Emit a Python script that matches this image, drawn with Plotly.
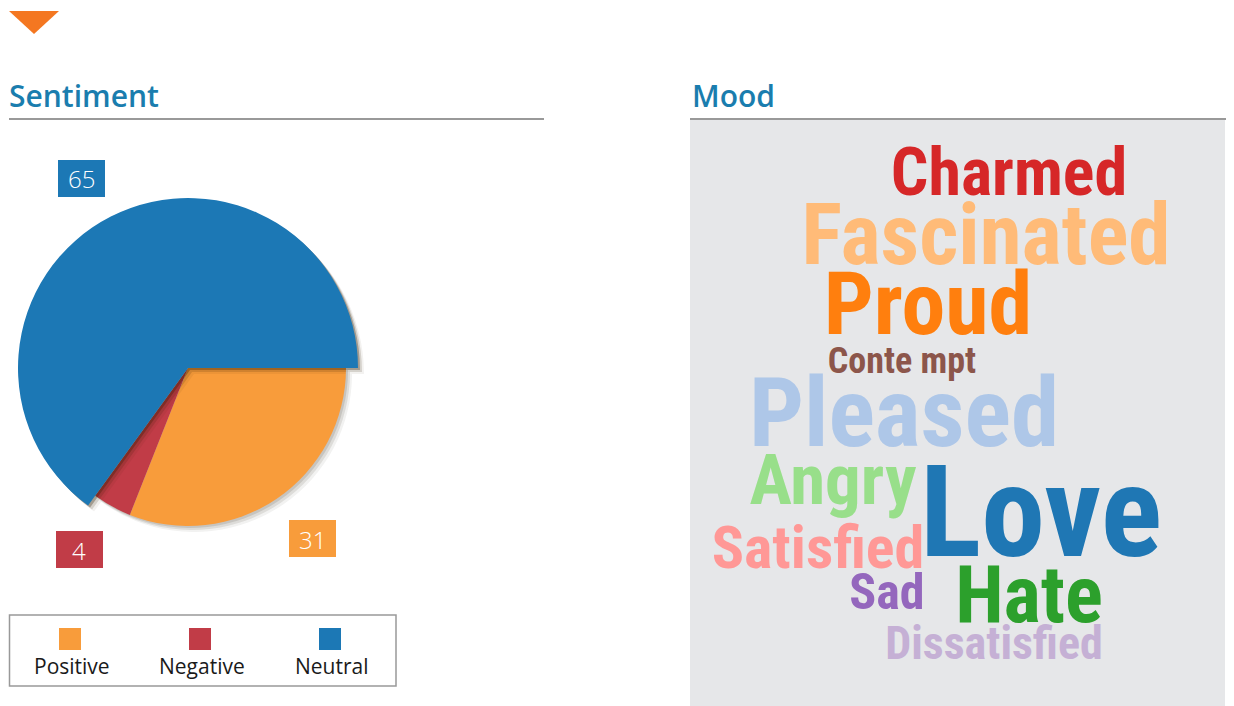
import plotly.graph_objects as go

W, H = 1234, 706

# ---------------- data ----------------
categories = ["Positive", "Negative", "Neutral"]
values = [31, 4, 65]
colors = ["#F89C3B", "#C13C47", "#1C78B5"]

words = ["Charmed", "Fascinated", "Proud", "Conte mpt", "Pleased", "Angry",
         "Love", "Satisfied", "Sad", "Hate", "Dissatisfied"]
word_weights = [66, 85, 88, 36, 97, 71, 128, 60, 50, 79, 46]
word_colors = ["#D62728", "#FFBB78", "#FF7F0E", "#8C564B", "#AEC7E8", "#98DF8A",
               "#1F77B4", "#FF9896", "#9467BD", "#2CA02C", "#C5B0D5"]

# ---------------- layout helpers (pixel -> paper) ----------------
def px(x):
    return x / W

def py(y):
    return 1 - y / H

# word-cloud placement (pixel centres inside the Mood panel)
word_x = [1009, 986, 928, 902, 904, 833, 1041, 818, 887, 1029, 994]
word_y = [178, 243, 312, 364, 422, 486, 524, 553, 596, 602, 647]

cx, cy = 188, 368
r_big, r_small = 170, 158

def dom(r, dx=0, dy=0):
    return dict(x=[px(cx - r + dx), px(cx + r + dx)],
                y=[py(cy + r + dy), py(cy - r + dy)])

TRANSP = "rgba(0,0,0,0)"
fig = go.Figure()

def pie(r, cols, dx=0, dy=0):
    fig.add_trace(go.Pie(
        labels=categories, values=values, sort=False, direction="clockwise",
        rotation=90, textinfo="none", showlegend=False,
        marker=dict(colors=cols, line=dict(width=0)),
        domain=dom(r, dx, dy), hoverinfo="label+value"))

# soft shadow for positive/negative slices
for off, a in [(2, 0.12), (4, 0.10), (6, 0.06)]:
    pie(r_small, [f"rgba(40,30,10,{a})", f"rgba(40,30,10,{a})", TRANSP], off, off)
pie(r_small, [colors[0], colors[1], TRANSP])
# shadow for neutral slice
for off, a in [(2, 0.30), (4, 0.15), (6, 0.06)]:
    pie(r_big, [TRANSP, TRANSP, f"rgba(50,30,0,{a})"], off, off)
pie(r_big, [TRANSP, TRANSP, colors[2]])

# word cloud
fig.add_trace(go.Scatter(
    x=word_x, y=word_y, text=words, mode="text", textposition="middle center",
    textfont=dict(size=word_weights, color=word_colors,
                  family="Roboto Condensed, Open Sans Condensed, sans-serif",
                  weight="bold"),
    hoverinfo="text", showlegend=False, xaxis="x", yaxis="y"))

shapes = []
annotations = []

# orange triangle marker
shapes.append(dict(type="path", xref="paper", yref="paper",
                   path=f"M {px(9)} {py(11)} L {px(59)} {py(11)} L {px(34)} {py(34)} Z",
                   fillcolor="#F47721", line=dict(width=0)))
# Mood panel background
shapes.append(dict(type="rect", xref="paper", yref="paper", layer="below",
                   x0=px(690), x1=px(1225), y0=py(706), y1=py(120),
                   fillcolor="#E6E7E9", line=dict(width=0)))
# header rules
for x0, x1 in [(9, 544), (690, 1226)]:
    shapes.append(dict(type="line", xref="paper", yref="paper",
                       x0=px(x0), x1=px(x1), y0=py(119), y1=py(119),
                       line=dict(color="#999999", width=2)))

title_font = dict(family="Open Sans, Lato, sans-serif", size=30, color="#1A7DAE", weight=600)
annotations.append(dict(text="Sentiment", x=px(7), y=py(96), xref="paper", yref="paper",
                        xanchor="left", yanchor="middle", showarrow=False, font=title_font))
annotations.append(dict(text="Mood", x=px(690), y=py(96), xref="paper", yref="paper",
                        xanchor="left", yanchor="middle", showarrow=False, font=title_font))

# value label boxes (order: positive, negative, neutral)
label_boxes = [(289, 520), (56, 531), (58, 160)]
for i, (bx, by) in enumerate(label_boxes):
    shapes.append(dict(type="rect", xref="paper", yref="paper",
                       x0=px(bx), x1=px(bx + 47), y0=py(by + 37), y1=py(by),
                       fillcolor=colors[i], line=dict(width=0)))
    annotations.append(dict(text=str(values[i]), x=px(bx + 23.5), y=py(by + 19),
                            xref="paper", yref="paper", xanchor="center", yanchor="middle",
                            showarrow=False,
                            font=dict(family="Open Sans, sans-serif", size=24, color="white", weight=300)))

# custom legend
shapes.append(dict(type="rect", xref="paper", yref="paper",
                   x0=px(9.5), x1=px(396), y0=py(686), y1=py(615),
                   line=dict(color="#999999", width=1.5), fillcolor="rgba(0,0,0,0)"))
legend_x = [70, 200, 330]
for i, lx in enumerate(legend_x):
    shapes.append(dict(type="rect", xref="paper", yref="paper",
                       x0=px(lx - 11), x1=px(lx + 11), y0=py(650), y1=py(628),
                       fillcolor=colors[i], line=dict(width=0)))
    annotations.append(dict(text=categories[i], x=px(lx + 2), y=py(666), xref="paper", yref="paper",
                            xanchor="center", yanchor="middle", showarrow=False,
                            font=dict(family="Open Sans, sans-serif", size=21, color="#1A1A1A", weight=400)))

fig.update_layout(
    width=W, height=H, margin=dict(l=0, r=0, t=0, b=0),
    paper_bgcolor="white", plot_bgcolor="rgba(0,0,0,0)",
    xaxis=dict(domain=[px(690), px(1225)], range=[690, 1225], visible=False, fixedrange=True),
    yaxis=dict(domain=[0, py(121)], range=[706, 121], visible=False, fixedrange=True),
    shapes=shapes, annotations=annotations, showlegend=False,
)

fig.write_html("out.html", config={"displayModeBar": False},
               post_script="document.body.style.margin='0';document.body.style.overflow='hidden';")
